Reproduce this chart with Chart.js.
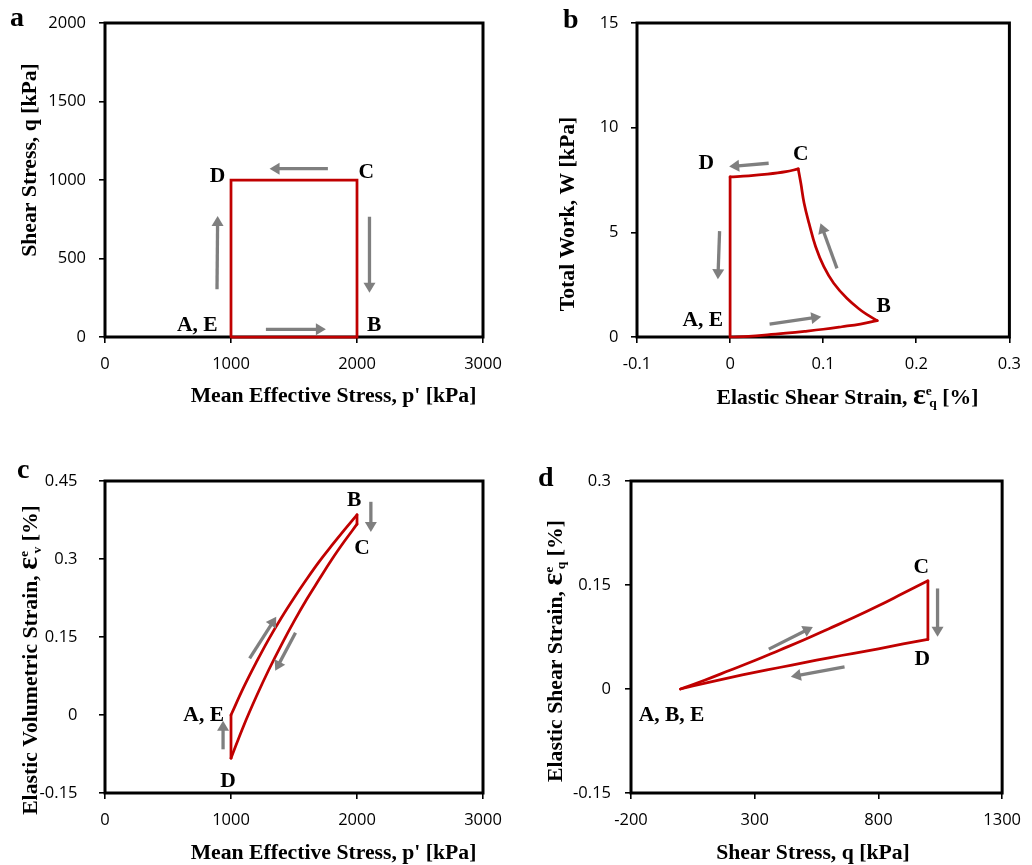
<!DOCTYPE html>
<html>
<head>
<meta charset="utf-8">
<script src="https://cdn.jsdelivr.net/npm/chart.js@4.4.1/dist/chart.umd.min.js"></script>
<style>
  html, body { margin: 0; padding: 0; background: #fff; }
  body { width: 1032px; height: 865px; position: relative; overflow: hidden; }
  canvas { position: absolute; }
</style>
</head>
<body>
<canvas id="panelA" width="516" height="432" style="left:0px;top:0px"></canvas>
<canvas id="panelB" width="516" height="432" style="left:516px;top:0px"></canvas>
<canvas id="panelC" width="516" height="433" style="left:0px;top:432px"></canvas>
<canvas id="panelD" width="516" height="433" style="left:516px;top:432px"></canvas>
<script>
// (a) stress path in p'-q space: A -> B -> C -> D -> E(=A)
const meanStressA = [1000, 2000, 2000, 1000, 1000];
const shearStressA = [0, 0, 1000, 1000, 0];

// (b) total work against elastic shear strain, one array pair per leg
const strainAB = [0, 0.02, 0.04, 0.06, 0.08, 0.10, 0.12, 0.14, 0.158];
const workAB   = [0, 0.035, 0.10, 0.18, 0.27, 0.37, 0.49, 0.62, 0.78];
const strainBC = [0.158, 0.149, 0.140, 0.1254, 0.1113, 0.1007, 0.0919, 0.0848, 0.0795, 0.0760, 0.0732];
const workBC   = [0.78, 1.02, 1.29, 1.85, 2.57, 3.36, 4.31, 5.43, 6.39, 7.34, 8.03];
const strainCD = [0.0732, 0.060, 0.040, 0.020, 0];
const workCD   = [8.03, 7.90, 7.78, 7.70, 7.65];
const strainDE = [0, 0];
const workDE   = [7.65, 0];

// (c) elastic volumetric strain against mean effective stress
const meanStressAB_C = [1000, 1100, 1200, 1300, 1400, 1500, 1600, 1700, 1800, 1900, 2000];
const volStrainAB_C  = [0, 0.053, 0.101, 0.146, 0.187, 0.225, 0.261, 0.295, 0.326, 0.356, 0.385];
const meanStressBC_C = [2000, 2000];
const volStrainBC_C  = [0.385, 0.367];
const meanStressCD_C = [2000, 1900, 1800, 1700, 1600, 1500, 1400, 1300, 1200, 1100, 1000];
const volStrainCD_C  = [0.367, 0.334, 0.299, 0.261, 0.222, 0.180, 0.135, 0.087, 0.035, -0.021, -0.083];
const meanStressDE_C = [1000, 1000];
const volStrainDE_C  = [-0.083, 0];

// (d) elastic shear strain against shear stress
const shearStressBC_D = [0, 100, 200, 300, 400, 500, 600, 700, 800, 900, 1000];
const shearStrainBC_D = [0, 0.013, 0.027, 0.041, 0.056, 0.071, 0.087, 0.103, 0.120, 0.138, 0.156];
const shearStressCD_D = [1000, 1000];
const shearStrainCD_D = [0.156, 0.0715];
const shearStressDE_D = [1000, 900, 800, 700, 600, 500, 400, 300, 200, 100, 0];
const shearStrainDE_D = [0.0715, 0.065, 0.058, 0.0515, 0.045, 0.038, 0.031, 0.024, 0.0165, 0.0085, 0];

// axis tick values and their labels
const xTicksA = [0, 1000, 2000, 3000],        xLabelsA = ['0', '1000', '2000', '3000'];
const yTicksA = [0, 500, 1000, 1500, 2000],   yLabelsA = ['0', '500', '1000', '1500', '2000'];
const xTicksB = [-0.1, 0, 0.1, 0.2, 0.3],     xLabelsB = ['-0.1', '0', '0.1', '0.2', '0.3'];
const yTicksB = [0, 5, 10, 15],               yLabelsB = ['0', '5', '10', '15'];
const xTicksC = [0, 1000, 2000, 3000],        xLabelsC = ['0', '1000', '2000', '3000'];
const yTicksC = [-0.15, 0, 0.15, 0.3, 0.45],  yLabelsC = ['-0.15', '0', '0.15', '0.3', '0.45'];
const xTicksD = [-200, 300, 800, 1300],       xLabelsD = ['-200', '300', '800', '1300'];
const yTicksD = [-0.15, 0, 0.15, 0.3],        yLabelsD = ['-0.15', '0', '0.15', '0.3'];

const SERIF = '"Liberation Serif", "Times New Roman", serif';
const SANS = '"Open Sans", "Liberation Sans", sans-serif';
const RED = '#C00000';
const GREY = '#7F7F7F';
const Y_AXIS_W = 80, X_AXIS_H = 40;
const TITLE_SIZE = 21.7;

function toPoints(xs, ys) { return xs.map((x, i) => ({ x: x, y: ys[i] })); }

const txt = t => ({ t: t, size: TITLE_SIZE });
const eps = sub => [{ t: 'ε', size: 30 }, { t: 'e', size: 13.5, dy: -9, adv: 0.6 }, { t: sub, size: 13.5, dy: 3.5 }];

// draws a run of bold serif pieces centred on x with baseline y
function drawRich(ctx, parts, x, y) {
  let total = 0;
  const widths = parts.map(p => {
    ctx.font = 'bold ' + p.size + 'px ' + SERIF;
    const w = ctx.measureText(p.t).width;
    const adv = p.adv !== undefined ? w * p.adv : w;
    total += adv;
    return adv;
  });
  let cx = x - total / 2;
  ctx.textAlign = 'left';
  ctx.textBaseline = 'alphabetic';
  parts.forEach((p, i) => {
    ctx.font = 'bold ' + p.size + 'px ' + SERIF;
    ctx.fillText(p.t, cx, y + (p.dy || 0));
    cx += widths[i];
  });
}

function drawArrow(ctx, x1, y1, x2, y2) {
  const ang = Math.atan2(y2 - y1, x2 - x1);
  const headLen = 10, headHalf = 6;
  const bx = x2 - headLen * Math.cos(ang), by = y2 - headLen * Math.sin(ang);
  ctx.strokeStyle = GREY;
  ctx.fillStyle = GREY;
  ctx.lineWidth = 3.3;
  ctx.lineCap = 'butt';
  ctx.beginPath();
  ctx.moveTo(x1, y1);
  ctx.lineTo(bx + Math.cos(ang), by + Math.sin(ang));
  ctx.stroke();
  ctx.beginPath();
  ctx.moveTo(x2, y2);
  ctx.lineTo(bx + headHalf * Math.sin(ang), by - headHalf * Math.cos(ang));
  ctx.lineTo(bx - headHalf * Math.sin(ang), by + headHalf * Math.cos(ang));
  ctx.closePath();
  ctx.fill();
}

function leg(points, tension) {
  return {
    data: points,
    showLine: true,
    borderColor: RED,
    borderWidth: 2.75,
    borderJoinStyle: 'miter',
    borderCapStyle: 'round',
    pointRadius: 0,
    tension: tension,
    clip: false
  };
}

function makePanel(p) {
  const cv = document.getElementById(p.id);
  const ox = parseFloat(cv.style.left), oy = parseFloat(cv.style.top);
  const a = p.area;
  const padding = {
    left: a.left - ox - Y_AXIS_W,
    top: a.top - oy,
    right: ox + cv.width - a.right,
    bottom: oy + cv.height - a.bottom - X_AXIS_H
  };

  const decor = {
    id: 'decor_' + p.id,
    beforeDatasetsDraw(chart) {
      const c = chart.ctx, ca = chart.chartArea;
      c.save();
      c.strokeStyle = '#000';
      c.lineWidth = 3;
      c.strokeRect(ca.left, ca.top, ca.right - ca.left, ca.bottom - ca.top);
      c.restore();
    },
    afterDatasetsDraw(chart) {
      const c = chart.ctx, sx = chart.scales.x, sy = chart.scales.y;
      c.save();
      p.arrows.forEach(ar => drawArrow(c, sx.getPixelForValue(ar[0]), sy.getPixelForValue(ar[1]),
                                          sx.getPixelForValue(ar[2]), sy.getPixelForValue(ar[3])));
      c.fillStyle = '#000';
      c.font = 'bold 21.5px ' + SERIF;
      c.textAlign = 'center';
      c.textBaseline = 'middle';
      p.labels.forEach(lb => c.fillText(lb[0], sx.getPixelForValue(lb[1]), sy.getPixelForValue(lb[2])));
      // panel letter
      c.font = 'bold 28px ' + SERIF;
      c.textAlign = 'left';
      c.textBaseline = 'alphabetic';
      c.fillText(p.letter[0], p.letter[1] - ox, p.letter[2] - oy);
      // axis titles
      drawRich(c, p.xTitle.parts, p.xTitle.x - ox, p.xTitle.y - oy);
      c.translate(p.yTitle.x - ox, p.yTitle.y - oy);
      c.rotate(-Math.PI / 2);
      drawRich(c, p.yTitle.parts, 0, 0);
      c.restore();
    }
  };

  const axis = (min, max, ticks, labels, isX, pad) => ({
    type: 'linear',
    position: isX ? 'bottom' : 'left',
    min: min,
    max: max,
    afterBuildTicks: s => { s.ticks = ticks.map(v => ({ value: v })); },
    afterFit: s => { if (isX) s.height = X_AXIS_H; else s.width = Y_AXIS_W; },
    grid: { display: true, drawOnChartArea: false, drawTicks: true, tickLength: 6, color: '#000', lineWidth: 1.6 },
    border: { display: false },
    ticks: {
      autoSkip: false, maxRotation: 0, minRotation: 0,
      padding: pad,
      color: '#000',
      font: { family: SANS, size: 16.5 },
      callback: (v, i) => labels[i]
    }
  });

  return new Chart(cv, {
    type: 'scatter',
    data: { datasets: p.legs },
    options: {
      responsive: false,
      animation: false,
      events: [],
      layout: { padding: padding },
      plugins: { legend: { display: false }, tooltip: { enabled: false } },
      scales: {
        x: axis(p.x[0], p.x[1], p.x[2], p.x[3], true, 11),
        y: axis(p.y[0], p.y[1], p.y[2], p.y[3], false, p.yPad)
      }
    },
    plugins: [decor]
  });
}

makePanel({
  id: 'panelA',
  area: { left: 105, top: 23, right: 483, bottom: 337 },
  legs: [leg(toPoints(meanStressA, shearStressA), 0)],
  x: [0, 3000, xTicksA, xLabelsA],
  y: [0, 2000, yTicksA, yLabelsA],
  yPad: 13,
  letter: ['a', 10, 26],
  xTitle: { parts: [txt("Mean Effective Stress, p' [kPa]")], x: 333.5, y: 401.5 },
  yTitle: { parts: [txt('Shear Stress, q [kPa]')], x: 36, y: 160 },
  labels: [['A, E', 733, 76], ['B', 2136, 76], ['C', 2073, 1045], ['D', 892, 1025]],
  arrows: [[889, 304, 894, 771], [1277, 49, 1753, 49], [1769, 1072, 1306, 1072], [2099, 766, 2099, 282]]
});

makePanel({
  id: 'panelB',
  area: { left: 637, top: 23, right: 1016.5, bottom: 337 },
  legs: [leg(toPoints(strainAB, workAB), 0.4), leg(toPoints(strainBC, workBC), 0.4),
         leg(toPoints(strainCD, workCD), 0.4), leg(toPoints(strainDE, workDE), 0)],
  x: [-0.1, 0.3, xTicksB, xLabelsB],
  y: [0, 15, yTicksB, yLabelsB],
  yPad: 12.5,
  letter: ['b', 563, 28],
  xTitle: { parts: [txt('Elastic Shear Strain, ')].concat(eps('q'), [txt(' [%]')]), x: 847.5, y: 403.5 },
  yTitle: { parts: [txt('Total Work, W [kPa]')], x: 573.5, y: 214 },
  labels: [['D', -0.0255, 8.30], ['C', 0.0759, 8.70], ['B', 0.165, 1.45], ['A, E', -0.0294, 0.81]],
  arrows: [[0.0414, 8.30, -0.001, 8.14], [-0.0113, 5.06, -0.0131, 2.76], [0.0424, 0.62, 0.0979, 0.97], [0.1148, 3.28, 0.0971, 5.43]]
});

makePanel({
  id: 'panelC',
  area: { left: 105, top: 481, right: 483, bottom: 793 },
  legs: [leg(toPoints(meanStressAB_C, volStrainAB_C), 0.4), leg(toPoints(meanStressBC_C, volStrainBC_C), 0),
         leg(toPoints(meanStressCD_C, volStrainCD_C), 0.4), leg(toPoints(meanStressDE_C, volStrainDE_C), 0)],
  x: [0, 3000, xTicksC, xLabelsC],
  y: [-0.15, 0.45, yTicksC, yLabelsC],
  yPad: 21.5,
  letter: ['c', 17, 478],
  xTitle: { parts: [txt("Mean Effective Stress, p' [kPa]")], x: 333.5, y: 858.5 },
  yTitle: { parts: [txt('Elastic Volumetric Strain, ')].concat(eps('v'), [txt(' [%]')]), x: 37, y: 660 },
  labels: [['B', 1978, 0.413], ['C', 2039, 0.320], ['A, E', 783, 0], ['D', 976, -0.128]],
  arrows: [[2110, 0.410, 2110, 0.352], [937, -0.066, 937, -0.011], [1148, 0.109, 1359, 0.189], [1512, 0.158, 1351, 0.085]]
});

makePanel({
  id: 'panelD',
  area: { left: 631, top: 481, right: 1010, bottom: 793 },
  legs: [leg(toPoints(shearStressBC_D, shearStrainBC_D), 0.4), leg(toPoints(shearStressCD_D, shearStrainCD_D), 0),
         leg(toPoints(shearStressDE_D, shearStrainDE_D), 0.4)],
  x: [-200, 1300, xTicksD, xLabelsD],
  y: [-0.15, 0.3, yTicksD, yLabelsD],
  yPad: 14,
  letter: ['d', 538, 486],
  xTitle: { parts: [txt('Shear Stress, q [kPa]')], x: 813, y: 858.5 },
  yTitle: { parts: [txt('Elastic Shear Strain, ')].concat(eps('q'), [txt(' [%]')]), x: 561.5, y: 651 },
  labels: [['C', 973, 0.176], ['D', 977, 0.0426], ['A, B, E', -36, -0.0386]],
  arrows: [[357, 0.0575, 535, 0.0896], [663, 0.032, 446, 0.0176], [1039, 0.145, 1039, 0.0752]]
});
</script>
</body>
</html>
